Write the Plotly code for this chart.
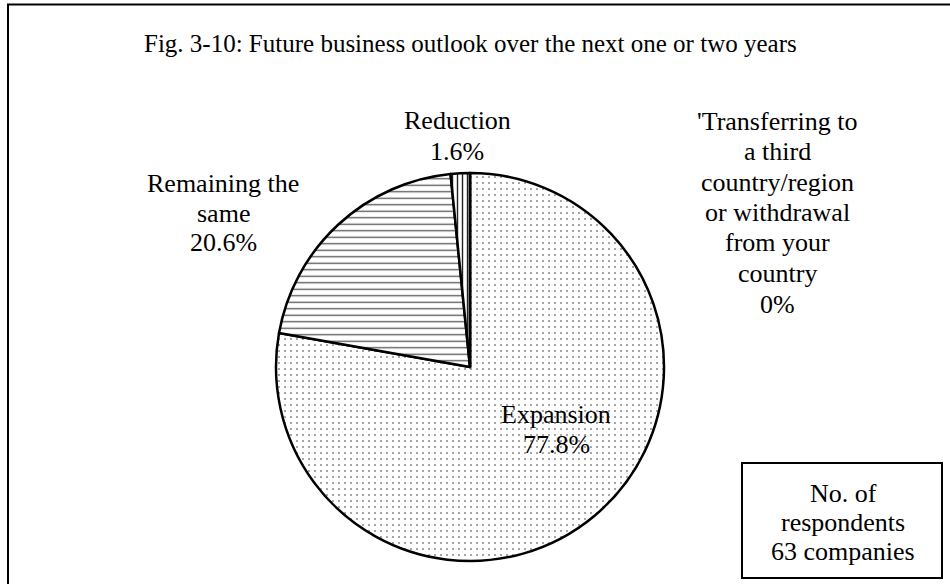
import plotly.graph_objects as go

categories = ["Expansion", "Remaining the same", "Reduction",
              "Transferring to a third country/region or withdrawal from your country"]
values = [77.8, 20.6, 1.6, 0]
label_lines = [
    ["Expansion", "77.8%"],
    ["Remaining the", "same", "20.6%"],
    ["Reduction", "1.6%"],
    ["'Transferring to", "a third", "country/region", "or withdrawal", "from your", "country", "0%"],
]
title_text = "Fig. 3-10: Future business outlook over the next one or two years"
box_lines = ["No. of", "respondents", "63 companies"]

W, H = 950, 584
FONT = "Liberation Serif, Times New Roman, serif"


def px(x):
    return x / W


def py(y):
    return 1 - y / H


cx, cy, r = 470, 367, 194

fig = go.Figure()
fig.add_trace(go.Pie(
    labels=categories,
    values=values,
    sort=False,
    direction="clockwise",
    rotation=0,
    textinfo="none",
    hoverinfo="label+percent",
    showlegend=False,
    domain=dict(x=[px(cx - r), px(cx + r)], y=[py(cy + r), py(cy - r)]),
    marker=dict(
        colors=["white", "white", "white", "white"],
        line=dict(color="black", width=2.5),
        pattern=dict(
            shape=[".", "-", "|", ""],
            fgcolor=["#222", "#555", "#222", "black"],
            bgcolor=["white", "white", "white", "white"],
            size=[6, 6.5, 5, 6],
            solidity=[0.05, 0.2, 0.28, 0.2],
        ),
    ),
))

label_pos = [(556, 414.5, 30), (223, 183, 30), (457, 120.5, 30.5), (777, 121, 30.5)]
annotations = []
for lines, (x, y0, dy) in zip(label_lines, label_pos):
    for i, t in enumerate(lines):
        annotations.append(dict(
            x=px(x), y=py(y0 + i * dy), xref="paper", yref="paper", text=t, showarrow=False,
            font=dict(family=FONT, size=26, color="black"), xanchor="center", yanchor="middle"))

annotations.append(dict(
    x=px(470), y=py(44), xref="paper", yref="paper", text=title_text, showarrow=False,
    font=dict(family=FONT, size=25, color="black"), xanchor="center", yanchor="middle"))

for i, t in enumerate(box_lines):
    annotations.append(dict(
        x=px(843), y=py(493 + i * 29), xref="paper", yref="paper", text=t, showarrow=False,
        font=dict(family=FONT, size=26, color="black"), xanchor="center", yanchor="middle"))

shapes = [
    dict(type="rect", xref="paper", yref="paper", x0=px(8), x1=1.05, y0=-0.05, y1=py(4.5),
         line=dict(color="black", width=2)),
    dict(type="rect", xref="paper", yref="paper", x0=px(742), x1=px(942), y0=py(578), y1=py(463),
         line=dict(color="black", width=2)),
]

fig.update_layout(
    width=W, height=H,
    margin=dict(l=0, r=0, t=0, b=0),
    paper_bgcolor="white", plot_bgcolor="white",
    annotations=annotations, shapes=shapes,
)

fig.write_html("out.html", config={"displayModeBar": False},
               post_script="document.body.style.margin='0';")
